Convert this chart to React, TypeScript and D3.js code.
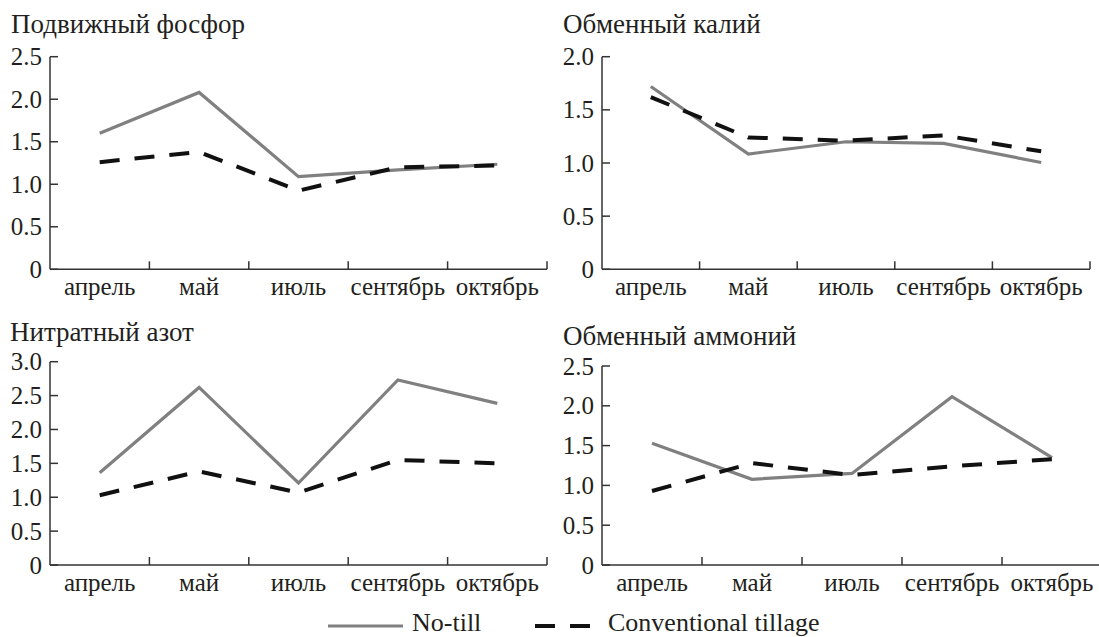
import React, { useEffect, useRef } from 'react';
import * as d3 from 'd3';

const months = ['апрель', 'май', 'июль', 'сентябрь', 'октябрь'];
const panelTitles = ['Подвижный фосфор', 'Обменный калий', 'Нитратный азот', 'Обменный аммоний'];
const yMaxes = [2.5, 2.0, 3.0, 2.5];

const phosphorusNoTill = [1.6, 2.08, 1.09, 1.17, 1.235];
const phosphorusConv = [1.26, 1.38, 0.925, 1.2, 1.22];
const potassiumNoTill = [1.72, 1.085, 1.2, 1.185, 1.005];
const potassiumConv = [1.62, 1.24, 1.21, 1.26, 1.11];
const nitrateNoTill = [1.36, 2.62, 1.21, 2.73, 2.385];
const nitrateConv = [1.03, 1.38, 1.07, 1.55, 1.5];
const ammoniumNoTill = [1.53, 1.077, 1.15, 2.115, 1.35];
const ammoniumConv = [0.93, 1.28, 1.13, 1.24, 1.33];

const legendLabels = ['No-till', 'Conventional tillage'];

const noTillSeries = [phosphorusNoTill, potassiumNoTill, nitrateNoTill, ammoniumNoTill];
const convSeries = [phosphorusConv, potassiumConv, nitrateConv, ammoniumConv];

const layouts = [
  { x0: 50, x1: 547, yTop: 56.7, yBottom: 269.3, titleX: 11, titleY: 33 },
  { x0: 602, x1: 1090, yTop: 56.7, yBottom: 269.3, titleX: 563, titleY: 33 },
  { x0: 50, x1: 547, yTop: 361.7, yBottom: 565, titleX: 10, titleY: 341 },
  { x0: 602, x1: 1102, yTop: 366, yBottom: 565, titleX: 563, titleY: 345 },
];

const GRAY = '#808080';
const AXIS = '#333';
const FONT = '"Liberation Serif", "Tinos", monospace';
const TEXT = '#231f20';

export default function App() {
  const ref = useRef<SVGSVGElement | null>(null);

  useEffect(() => {
    const svg = d3.select(ref.current);
    svg.selectAll('*').remove();
    svg.append('rect').attr('width', 1099).attr('height', 637).attr('fill', '#fff');
    const addText = (x: number, y: number, s: string, size: number, anchor = 'start') =>
      svg
        .append('text')
        .attr('x', x)
        .attr('y', y)
        .attr('text-anchor', anchor)
        .attr('font-family', FONT)
        .attr('font-size', size)
        .style('font-family', FONT)
        .style('font-size', size + 'px')
        .attr('fill', TEXT)
        .text(s);

    layouts.forEach((L, idx) => {
      const x = d3.scaleBand<string>().domain(months).range([L.x0, L.x1]).paddingInner(0).paddingOuter(0);
      const y = d3.scaleLinear().domain([0, yMaxes[idx]]).range([L.yBottom, L.yTop]);
      const ticks = d3.range(0, yMaxes[idx] + 0.001, 0.5);
      const line = d3
        .line<number>()
        .x((_, i) => (x(months[i]) as number) + x.bandwidth() / 2)
        .y((d) => y(d));
      const fmt = (v: number) => (v === 0 ? '0' : d3.format('.1f')(v));

      addText(L.titleX, L.titleY, panelTitles[idx], 27);

      svg.append('line').attr('x1', L.x0).attr('x2', L.x0).attr('y1', L.yTop).attr('y2', L.yBottom)
        .attr('stroke', AXIS).attr('stroke-width', 1.5);
      ticks.forEach((t) => {
        svg.append('line').attr('x1', L.x0).attr('x2', L.x0 + 8).attr('y1', y(t)).attr('y2', y(t))
          .attr('stroke', AXIS).attr('stroke-width', 1.5);
        addText(L.x0 - 8, y(t) + 8.5, fmt(t), 25, 'end');
      });

      svg.append('line').attr('x1', L.x0).attr('x2', L.x1).attr('y1', L.yBottom).attr('y2', L.yBottom)
        .attr('stroke', AXIS).attr('stroke-width', 1.5);
      months.forEach((m) => {
        const bx = (x(m) as number) + x.bandwidth();
        svg.append('line').attr('x1', bx).attr('x2', bx).attr('y1', L.yBottom).attr('y2', L.yBottom - 8)
          .attr('stroke', AXIS).attr('stroke-width', 1.5);
        addText((x(m) as number) + x.bandwidth() / 2, L.yBottom + 26, m, 25, 'middle');
      });

      svg.append('path').attr('d', line(noTillSeries[idx]) || '').attr('fill', 'none')
        .attr('stroke', GRAY).attr('stroke-width', 3.2);
      svg.append('path').attr('d', line(convSeries[idx]) || '').attr('fill', 'none')
        .attr('stroke', '#111').attr('stroke-width', 4).attr('stroke-dasharray', '20,15');
    });

    svg.append('line').attr('x1', 328).attr('x2', 403).attr('y1', 626).attr('y2', 626)
      .attr('stroke', GRAY).attr('stroke-width', 3.2);
    addText(412, 631, legendLabels[0], 26);
    svg.append('line').attr('x1', 535).attr('x2', 592).attr('y1', 626).attr('y2', 626)
      .attr('stroke', '#111').attr('stroke-width', 4).attr('stroke-dasharray', '20,15');
    addText(608, 631, legendLabels[1], 26);
  }, []);

  return (
    <svg
      ref={ref}
      width={1099}
      height={637}
      style={{ position: 'absolute', left: 0, top: 0, background: '#fff', fontFamily: FONT }}
    />
  );
}
